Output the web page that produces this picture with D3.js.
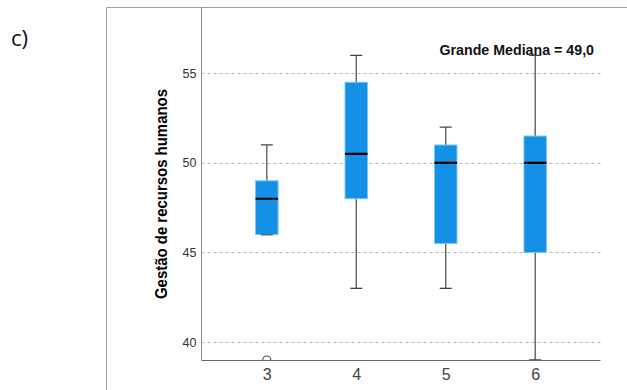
<!DOCTYPE html>
<html>
<head>
<meta charset="utf-8">
<script src="https://cdn.jsdelivr.net/npm/d3@7"></script>
<style>
  html, body { margin: 0; padding: 0; background: #fff; }
  svg { display: block; }
</style>
</head>
<body>
<svg id="chart" width="627" height="390"></svg>
<script>
// Groups on the x axis
const categories = ["3", "4", "5", "6"];
// Five-number summaries per group
const whiskerLow  = [46, 43, 43, 39];
const q1          = [46, 48, 45.5, 45];
const medians     = [48, 50.5, 50, 50];
const q3          = [49, 54.5, 51, 51.5];
const whiskerHigh = [51, 56, 52, 56];
// Outliers per group
const outliers    = [[39], [], [], []];
const yTicks = [40, 45, 50, 55];
const grandMedian = 49.0;
const yLabel = "Gestão de recursos humanos";
const panelLabel = "c)";

const svg = d3.select("#chart");
const plot = { left: 201.5, right: 600.5, top: 7, bottom: 360 };

const x = d3.scalePoint().domain(categories)
  .range([plot.left, plot.right]).padding(0.73);
const y = d3.scaleLinear().domain([39, 58.7]).range([plot.bottom, plot.top]);

// Outer frame
svg.append("path")
  .attr("d", `M106.5,390 V7.5 H627`)
  .attr("fill", "none").attr("stroke", "#a0a0a0").attr("stroke-width", 1);

// Panel label
svg.append("text").attr("x", 11).attr("y", 46)
  .attr("font-family", "Open Sans, Liberation Sans, sans-serif")
  .attr("font-size", 22).attr("fill", "#111").text(panelLabel);

// Grid lines
svg.append("g").selectAll("line").data(yTicks).join("line")
  .attr("x1", plot.left).attr("x2", plot.right)
  .attr("y1", d => Math.round(y(d)) + 0.5).attr("y2", d => Math.round(y(d)) + 0.5)
  .attr("stroke", "#b8b8b8").attr("stroke-width", 1)
  .attr("stroke-dasharray", "3,3");

// Y axis (labels only)
const yAxis = d3.axisLeft(y).tickValues(yTicks).tickSize(0).tickPadding(5)
  .tickFormat(d3.format("d"));
const gy = svg.append("g").attr("transform", `translate(${plot.left},0)`).call(yAxis);
gy.select(".domain").remove();
gy.selectAll("text").attr("font-family", "Liberation Sans, Arial, sans-serif")
  .attr("font-size", 12.5).attr("fill", "#333");

// X axis (labels only)
const xAxis = d3.axisBottom(x).tickSize(0).tickPadding(9);
const gx = svg.append("g").attr("transform", `translate(0,${plot.bottom})`).call(xAxis);
gx.select(".domain").remove();
gx.selectAll("text").attr("font-family", "Liberation Sans, Arial, sans-serif")
  .attr("font-size", 16).attr("fill", "#444");

// Axis lines
svg.append("line").attr("x1", plot.left).attr("x2", plot.left)
  .attr("y1", plot.top).attr("y2", plot.bottom)
  .attr("stroke", "#8a8a8a").attr("stroke-width", 1);
svg.append("line").attr("x1", plot.left).attr("x2", plot.right)
  .attr("y1", plot.bottom + 0.5).attr("y2", plot.bottom + 0.5)
  .attr("stroke", "#666").attr("stroke-width", 1.2);

// Clip for marks
svg.append("clipPath").attr("id", "plotClip").append("rect")
  .attr("x", plot.left).attr("y", plot.top)
  .attr("width", plot.right - plot.left).attr("height", plot.bottom - plot.top);

const boxes = categories.map((c, i) => ({
  c, lo: whiskerLow[i], q1: q1[i], med: medians[i], q3: q3[i], hi: whiskerHigh[i], out: outliers[i]
}));

const bw = 22.5, capW = 12;
const marks = svg.append("g").attr("clip-path", "url(#plotClip)");

const g = marks.selectAll("g.box").data(boxes).join("g").attr("class", "box");

// Whiskers
g.append("line").attr("x1", d => x(d.c)).attr("x2", d => x(d.c))
  .attr("y1", d => y(d.hi)).attr("y2", d => y(d.q3))
  .attr("stroke", "#555").attr("stroke-width", 1.3);
g.append("line").attr("x1", d => x(d.c)).attr("x2", d => x(d.c))
  .attr("y1", d => y(d.q1)).attr("y2", d => y(d.lo))
  .attr("stroke", "#555").attr("stroke-width", 1.3);
// Caps
g.append("line").attr("x1", d => x(d.c) - capW / 2).attr("x2", d => x(d.c) + capW / 2)
  .attr("y1", d => y(d.hi)).attr("y2", d => y(d.hi))
  .attr("stroke", "#444").attr("stroke-width", 1.3);
g.append("line").attr("x1", d => x(d.c) - capW / 2).attr("x2", d => x(d.c) + capW / 2)
  .attr("y1", d => y(d.lo)).attr("y2", d => y(d.lo))
  .attr("stroke", "#444").attr("stroke-width", 1.3);

// Boxes
g.append("rect")
  .attr("x", d => x(d.c) - bw / 2).attr("width", bw)
  .attr("y", d => y(d.q3)).attr("height", d => y(d.q1) - y(d.q3))
  .attr("fill", "#1490e6").attr("stroke", "#7cc6f7").attr("stroke-width", 1);
// Medians
g.append("line").attr("x1", d => x(d.c) - bw / 2).attr("x2", d => x(d.c) + bw / 2)
  .attr("y1", d => y(d.med)).attr("y2", d => y(d.med))
  .attr("stroke", "#000").attr("stroke-width", 2.2);
// Lower cap that sits on the box edge stays visible
g.filter(d => d.lo === d.q1).append("line")
  .attr("x1", d => x(d.c) - capW / 2).attr("x2", d => x(d.c) + capW / 2)
  .attr("y1", d => y(d.lo)).attr("y2", d => y(d.lo))
  .attr("stroke", "#666").attr("stroke-width", 1.3);

// Outliers
g.selectAll("circle").data(d => d.out.map(v => ({ c: d.c, v }))).join("circle")
  .attr("cx", d => x(d.c)).attr("cy", d => y(d.v)).attr("r", 4)
  .attr("fill", "none").attr("stroke", "#444").attr("stroke-width", 1.1);

// Grand median annotation
svg.append("text").attr("x", 439.5).attr("y", 55)
  .attr("font-family", "Liberation Sans, Arial, sans-serif").attr("font-weight", "bold")
  .attr("font-size", 14).attr("fill", "#111")
  .attr("textLength", 154.5).attr("lengthAdjust", "spacingAndGlyphs")
  .text(`Grande Mediana = ${d3.format(".1f")(grandMedian).replace(".", ",")}`);

// Y axis title
svg.append("text")
  .attr("transform", "translate(166.5,194) rotate(-90)")
  .attr("text-anchor", "middle")
  .attr("font-family", "Liberation Sans, Arial, sans-serif").attr("font-weight", "bold")
  .attr("font-size", 16).attr("fill", "#000")
  .attr("textLength", 210).attr("lengthAdjust", "spacingAndGlyphs")
  .text(yLabel);
</script>
</body>
</html>
